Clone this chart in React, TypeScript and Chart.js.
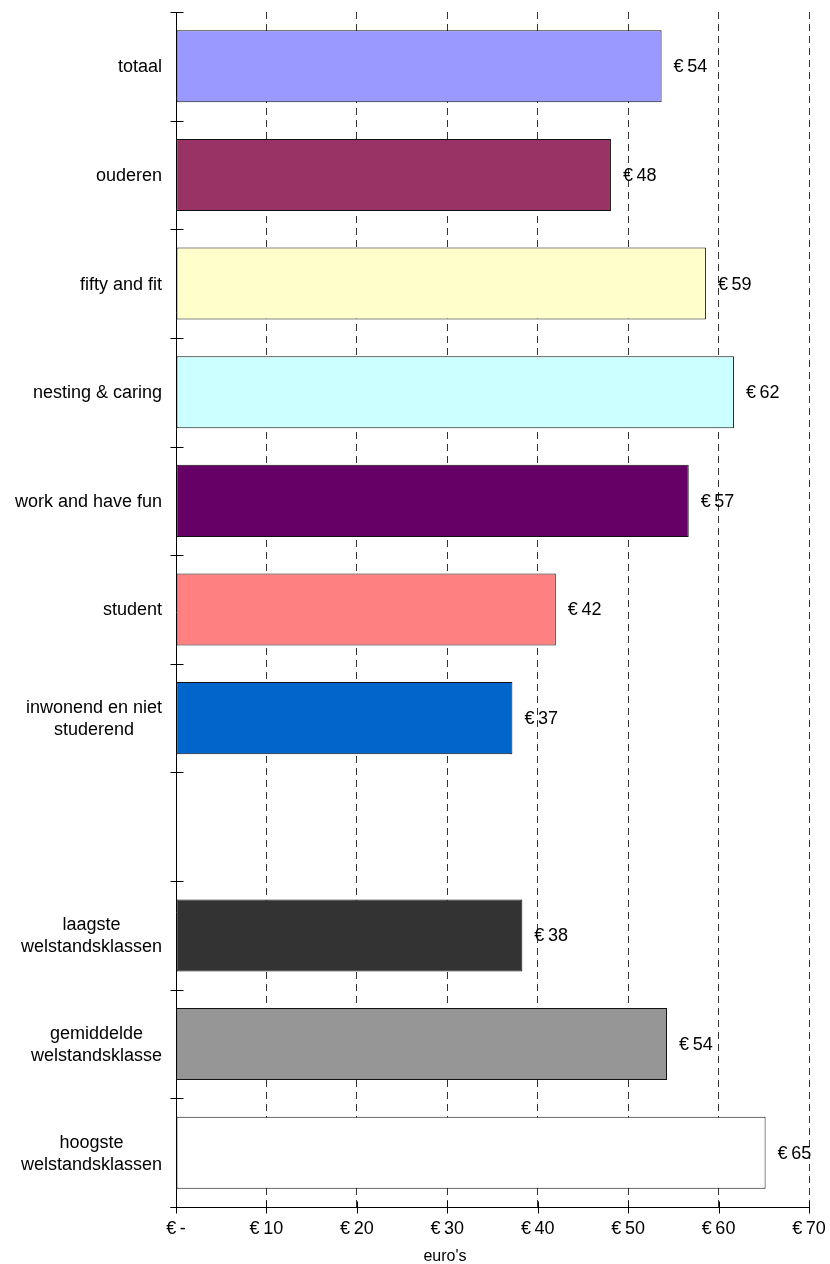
import React, { useEffect, useRef } from "react";
import { Chart, registerables } from "chart.js";

Chart.register(...registerables);

const categories: string[][] = [
  ["totaal"],
  ["ouderen"],
  ["fifty and fit"],
  ["nesting & caring"],
  ["work and have fun"],
  ["student"],
  ["inwonend en niet", "studerend"],
  [""],
  ["laagste", "welstandsklassen"],
  ["gemiddelde", "welstandsklasse"],
  ["hoogste", "welstandsklassen"],
];

const values: (number | null)[] = [53.7, 48.1, 58.6, 61.7, 56.7, 42.0, 37.2, null, 38.3, 54.3, 65.2];

const valueLabels: string[] = ["€\u200954", "€\u200948", "€\u200959", "€\u200962", "€\u200957", "€\u200942", "€\u200937", "", "€\u200938", "€\u200954", "€\u200965"];

const barColors: string[] = [
  "#9999FF",
  "#993366",
  "#FFFFCC",
  "#CCFFFF",
  "#660066",
  "#FF8080",
  "#0066CC",
  "#FFFFFF",
  "#333333",
  "#969696",
  "#FFFFFF",
];

const xTickValues: number[] = [0, 10, 20, 30, 40, 50, 60, 70];
const xTickLabels: string[] = ["€\u2009-", "€\u200910", "€\u200920", "€\u200930", "€\u200940", "€\u200950", "€\u200960", "€\u200970"];
const xTitle = "euro's";

const FONT = "Liberation Sans, Arial, sans-serif";

const customPlugin = {
  id: "customDraw",
  afterDraw(chart: any) {
    const ctx = chart.ctx;
    const xs = chart.scales.x;
    const ys = chart.scales.y;
    const area = chart.chartArea;
    ctx.save();
    ctx.strokeStyle = "#000";
    ctx.lineWidth = 1;
    ctx.setLineDash([]);
    // y axis line
    const x0 = Math.round(xs.getPixelForValue(0)) + 0.5;
    ctx.beginPath();
    ctx.moveTo(x0, area.top);
    ctx.lineTo(x0, area.bottom + 6);
    ctx.stroke();
    // x axis line
    const yb = Math.round(area.bottom) + 0.5;
    ctx.beginPath();
    ctx.moveTo(x0 - 6, yb);
    ctx.lineTo(Math.round(xs.getPixelForValue(70)) + 0.5, yb);
    ctx.stroke();
    // x ticks crossing
    xTickValues.forEach((v) => {
      const px = Math.round(xs.getPixelForValue(v)) + 0.5;
      ctx.beginPath();
      ctx.moveTo(px, yb - 6);
      ctx.lineTo(px, yb + 6);
      ctx.stroke();
    });
    // y ticks crossing at category boundaries
    const n = categories.length;
    for (let i = 0; i <= n; i++) {
      const py = Math.round(ys.getPixelForValue(i - 0.5)) + 0.5;
      ctx.beginPath();
      ctx.moveTo(x0 - 6, py);
      ctx.lineTo(x0 + 7, py);
      ctx.stroke();
    }
    ctx.fillStyle = "#000";
    // x tick labels
    ctx.font = `18px ${FONT}`;
    ctx.textAlign = "center";
    ctx.textBaseline = "alphabetic";
    xTickValues.forEach((v, i) => {
      ctx.fillText(xTickLabels[i], xs.getPixelForValue(v), 1234);
    });
    // category labels
    ctx.font = `18px ${FONT}`;
    ctx.textBaseline = "middle";
    ctx.textAlign = "center";
    const lineH = 22;
    categories.forEach((lines, i) => {
      const cy = ys.getPixelForValue(i) + 1;
      const maxW = Math.max(...lines.map((l) => ctx.measureText(l).width));
      const cx = 162 - maxW / 2;
      lines.forEach((l, j) => {
        const y = cy + (j - (lines.length - 1) / 2) * lineH;
        ctx.fillText(l, cx, y);
      });
    });
    // value labels
    ctx.textAlign = "left";
    values.forEach((v, i) => {
      if (v === null) return;
      const px = xs.getPixelForValue(v) + 12;
      const py = ys.getPixelForValue(i) + 1;
      ctx.fillText(valueLabels[i], px, py);
    });
    // x title
    ctx.textAlign = "center";
    ctx.textBaseline = "alphabetic";
    ctx.font = `16px ${FONT}`;
    ctx.fillText(xTitle, 445, 1261);
    ctx.restore();
  },
};

export default function App() {
  const canvasRef = useRef<HTMLCanvasElement | null>(null);

  useEffect(() => {
    if (!canvasRef.current) return;
    const chart = new Chart(canvasRef.current, {
      type: "bar",
      data: {
        labels: categories.map((c) => c.join(" ")),
        datasets: [
          {
            data: values as any,
            backgroundColor: barColors,
            borderColor: "#111",
            borderWidth: 1,
            borderSkipped: false,
            barPercentage: 0.663,
            categoryPercentage: 1,
          },
        ],
      },
      options: {
        indexAxis: "y",
        responsive: false,
        animation: false,
        devicePixelRatio: 1,
        layout: { padding: { top: 12, right: 21, left: 0, bottom: 0 } },
        plugins: {
          legend: { display: false },
          tooltip: { enabled: false },
          title: { display: false },
        },
        scales: {
          x: {
            type: "linear",
            min: 0,
            max: 70,
            position: "bottom",
            afterFit: (s: any) => {
              s.height = 57;
            },
            ticks: {
              stepSize: 10,
              display: false,
            },
            grid: {
              drawTicks: false,
              lineWidth: 1,
              color: (c: any) => (c.tick && c.tick.value === 0 ? "rgba(0,0,0,0)" : "#333"),
            },
            border: { display: false, dash: [7, 5] },
          },
          y: {
            type: "category",
            offset: true,
            afterFit: (s: any) => {
              s.width = 176;
            },
            ticks: { display: false },
            grid: { display: false },
            border: { display: false },
          },
        },
      },
      plugins: [customPlugin],
    });
    return () => chart.destroy();
  }, []);

  return (
    <div style={{ position: "absolute", left: 0, top: 0, width: 830, height: 1264, background: "#fff" }}>
      <canvas ref={canvasRef} width={830} height={1264} style={{ display: "block" }} />
    </div>
  );
}
